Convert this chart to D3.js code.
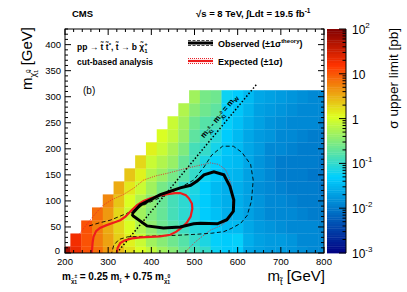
<!DOCTYPE html>
<html><head><meta charset="utf-8">
<script src="https://cdn.jsdelivr.net/npm/d3@7"></script>
<style>
body{margin:0;background:#fff}
svg{display:block}
text{font-family:"Liberation Sans",Arial,Helvetica,sans-serif;fill:#000}
</style>
</head><body>
<svg id="c" width="407" height="292"></svg>
<script>
// ---------------- data ----------------
const stopMass = [200,225,250,275,300,325,350,375,400,425,450,475,500,525,550,575,600,625,650,675,700,725,750,775,800];
const lspStep = 25; // LSP mass of the first cell is 0, then +25 GeV per cell
// observed sigma upper limit [pb], one array per stop mass column, from m_LSP = 0 upward
const upperLimit = [
 [63],
 [20,18],
 [11,10,11],
 [7.1,6.3,6.0,7.1],
 [4.2,3.8,3.5,4.0,5.2],
 [2.6,2.2,1.9,1.9,2.4,3.3],
 [1.7,1.3,1.05,0.89,1.05,1.5,2.4],
 [1.05,0.83,0.63,0.48,0.63,0.89,1.3,1.9],
 [0.71,0.50,0.37,0.30,0.32,0.45,0.63,0.89,1.3],
 [0.45,0.35,0.25,0.20,0.22,0.28,0.42,0.60,0.83,1.05],
 [0.32,0.24,0.17,0.13,0.14,0.19,0.28,0.40,0.52,0.71,0.83],
 [0.21,0.16,0.12,0.095,0.095,0.11,0.16,0.22,0.30,0.40,0.50,0.60],
 [0.14,0.11,0.089,0.071,0.066,0.076,0.105,0.13,0.14,0.18,0.25,0.35,0.45],
 [0.10,0.079,0.066,0.050,0.048,0.050,0.060,0.079,0.10,0.126,0.16,0.24,0.28],
 [0.063,0.056,0.050,0.038,0.035,0.035,0.040,0.052,0.066,0.089,0.126,0.19,0.24],
 [0.050,0.045,0.035,0.028,0.026,0.028,0.034,0.038,0.042,0.048,0.052,0.056,0.063],
 [0.050,0.052,0.035,0.028,0.026,0.028,0.030,0.032,0.032,0.035,0.038,0.040,0.045],
 [0.025,0.028,0.025,0.022,0.021,0.021,0.022,0.024,0.025,0.025,0.028,0.030,0.032],
 [0.020,0.022,0.019,0.017,0.016,0.015,0.016,0.017,0.018,0.019,0.021,0.022,0.025],
 [0.018,0.019,0.016,0.014,0.013,0.0126,0.0126,0.013,0.014,0.016,0.017,0.018,0.020],
 [0.018,0.018,0.015,0.013,0.0126,0.012,0.011,0.011,0.0126,0.014,0.015,0.017,0.018],
 [0.016,0.016,0.014,0.0126,0.012,0.011,0.0105,0.011,0.012,0.0126,0.014,0.015,0.016],
 [0.015,0.014,0.013,0.012,0.011,0.0105,0.010,0.0105,0.011,0.012,0.013,0.014,0.015],
 [0.014,0.013,0.0126,0.011,0.0105,0.010,0.0095,0.010,0.0105,0.011,0.0126,0.013,0.014],
 [0.013,0.0126,0.012,0.0105,0.010,0.0095,0.009,0.0095,0.010,0.0105,0.012,0.0126,0.013]
];
// contours [m_stop, m_LSP]
const observedLimit = [[355,75],[374,92],[400,103],[421,112],[467,125],[491,130],[506,138],[522,150],[545,156],[568,150],[582,128],[591,102],[590,80],[575,64],[553,56],[514,57],[498,56],[467,50],[428,48],[390,52],[358,71],[355,75]];
const observedTheoryPlus = [[256,52],[280,58],[305,63],[343,76],[390,95],[444,115],[498,140],[522,165],[540,188],[565,205],[590,205],[610,193],[630,170],[636,140],[632,100],[622,72],[607,57],[585,47],[568,41],[540,38],[505,36],[460,34],[420,33],[380,32],[345,31],[325,26],[313,15],[308,0]];
const expectedLimit = [[262,0],[264,20],[266,31],[272,42],[281,48],[295,53],[312,58],[328,63],[340,70],[352,80],[367,92],[382,100],[398,105],[418,110],[437,113],[455,115],[467,115],[480,111],[487,105],[494,95],[495,85],[491,70],[482,58],[471,49],[458,41],[444,35],[420,32],[398,31],[375,30],[355,28],[338,24],[328,19],[322,10],[320,0]];
const expectedSigmaPlus = [[233,36],[240,44],[258,63],[275,80],[289,92],[310,103],[335,112],[360,125],[382,140],[410,148],[437,153],[460,158],[483,163],[510,168],[537,173],[556,170],[572,160],[580,145],[586,125],[588,100],[588,80],[580,65],[560,52],[537,44],[515,30],[500,20],[491,12],[483,6],[478,0]];
const mWLine = [[320,0],[645,325]];
const xTicks = [200,300,400,500,600,700,800];
const yTicks = [0,50,100,150,200,250,300,350,400];
const zTicks = [1e-3,1e-2,1e-1,1,10,100];
const zLabels = [["10","-3"],["10","-2"],["10","-1"],["1",""],["10",""],["10","2"]];

// ---------------- drawing ----------------
const svg = d3.select("#c");
const x = d3.scaleLinear().domain([200,800]).range([65,324]);
const y = d3.scaleLinear().domain([0,430]).range([253,29]);
const z = d3.scaleLog().domain([1e-3,1e2]).range([253,29]);
const pal = d3.scaleLinear().domain([0,0.34,0.61,0.84,1])
  .range(["#000082","#00cfff","#deff1f","#ff3300","#820000"]).clamp(true);
const nCont = 100;
const colorOf = v => { let f=(Math.log10(v)+3)/5; f=Math.floor(f*nCont)/nCont+0.5/nCont; return pal(f); };

svg.append("defs").append("clipPath").attr("id","plot")
  .append("rect").attr("x",65).attr("y",29).attr("width",259).attr("height",224);

const cells = [];
stopMass.forEach((m,i)=>upperLimit[i].forEach((v,j)=>cells.push({m, l:j*lspStep, v})));
const gCells = svg.append("g").attr("clip-path","url(#plot)");
gCells.selectAll("rect").data(cells).enter().append("rect")
  .attr("x",d=>x(d.m-12.5)).attr("y",d=>y(d.l+12.5))
  .attr("width",d=>x(d.m+12.5)-x(d.m-12.5)+0.3)
  .attr("height",d=>y(d.l-12.5)-y(d.l+12.5)+0.3)
  .attr("fill",d=>colorOf(d.v));

// contours
const line = d3.line().x(d=>x(d[0])).y(d=>y(d[1]));
const gC = svg.append("g").attr("clip-path","url(#plot)").attr("fill","none");
gC.append("path").attr("d",line(mWLine)).attr("stroke","#000").attr("stroke-width",1.5).attr("stroke-dasharray","1.5,2");
gC.append("path").attr("d",line(expectedSigmaPlus)).attr("stroke","#e8202a").attr("stroke-width",0.9).attr("stroke-dasharray","1,1.3");
gC.append("path").attr("d",line(observedTheoryPlus)).attr("stroke","#000").attr("stroke-width",0.9).attr("stroke-dasharray","4,2.5");
gC.append("path").attr("d",line(expectedLimit)).attr("stroke","#ee1c1c").attr("stroke-width",2.2);
gC.append("path").attr("d",line(observedLimit)).attr("stroke","#000").attr("stroke-width",3);

// mW label
const ang = Math.atan2(y(0)-y(100), x(100)-x(0))*180/Math.PI;
const lab = svg.append("text").attr("font-size",8).attr("font-weight","bold")
  .attr("transform",`translate(${x(522)},${y(220)}) rotate(${-ang})`);
lab.append("tspan").text("m");
lab.append("tspan").attr("font-size",5.5).attr("dy",2).text("χ̃");
lab.append("tspan").attr("font-size",4.5).attr("dy",-4).text("±");
lab.append("tspan").attr("font-size",4.5).attr("dx",-3).attr("dy",5).text("1");
lab.append("tspan").attr("dy",-3).text(" - m");
lab.append("tspan").attr("font-size",5.5).attr("dy",2).text("χ̃");
lab.append("tspan").attr("font-size",4.5).attr("dy",-4).text("0");
lab.append("tspan").attr("font-size",4.5).attr("dx",-3).attr("dy",5).text("1");
lab.append("tspan").attr("dy",-3).text(" = m");
lab.append("tspan").attr("font-size",5.5).attr("dy",2).text("W");

// frame and ticks
const gA = svg.append("g").attr("stroke","#000").attr("stroke-width",1);
gA.append("rect").attr("x",65).attr("y",29).attr("width",259).attr("height",224).attr("fill","none");
const xMinor = d3.range(200,801,20), yMinor = d3.range(0,431,10);
xMinor.forEach(t=>{const L = xTicks.includes(t)?6:3;
  gA.append("line").attr("x1",x(t)).attr("x2",x(t)).attr("y1",253).attr("y2",253-L);
  gA.append("line").attr("x1",x(t)).attr("x2",x(t)).attr("y1",29).attr("y2",29+L);});
yMinor.forEach(t=>{const L = yTicks.includes(t)?6:3;
  gA.append("line").attr("y1",y(t)).attr("y2",y(t)).attr("x1",65).attr("x2",65+L);
  gA.append("line").attr("y1",y(t)).attr("y2",y(t)).attr("x1",324).attr("x2",324-L);});
svg.selectAll(".xl").data(xTicks).enter().append("text").attr("font-size",9.5)
  .attr("x",d=>x(d)).attr("y",264.5).attr("text-anchor","middle").text(d=>d);
svg.selectAll(".yl").data(yTicks).enter().append("text").attr("font-size",9.5)
  .attr("x",d=>d===0?60:61).attr("y",d=>y(d)+3.2-(d===0?2:0)).attr("text-anchor","end").text(d=>d);

// color bar
const gZ = svg.append("g");
d3.range(nCont).forEach(i=>{
  const f0=i/nCont, f1=(i+1)/nCont;
  const yy0 = 253-f1*224, yy1=253-f0*224;
  gZ.append("rect").attr("x",327).attr("y",yy0).attr("width",19).attr("height",yy1-yy0+0.4).attr("fill",pal((i+0.5)/nCont));
});
zTicks.forEach((t,i)=>{ if(i<5) d3.range(2,10).forEach(k=>{
  gZ.append("line").attr("x1",346).attr("x2",342.5).attr("y1",z(t*k)).attr("y2",z(t*k)).attr("stroke","#000");});
  gZ.append("line").attr("x1",346).attr("x2",339).attr("y1",z(t)).attr("y2",z(t)).attr("stroke","#000");
  const tx = svg.append("text").attr("font-size",12).attr("x",352).attr("y",z(t)+5);
  tx.append("tspan").text(zLabels[i][0]);
  if(zLabels[i][1]) tx.append("tspan").attr("font-size",8).attr("dy",-6).text(zLabels[i][1]);
});
gZ.append("line").attr("x1",346).attr("x2",346).attr("y1",29).attr("y2",253).attr("stroke","#000");

// titles
svg.append("text").attr("font-size",13.5).attr("text-anchor","end")
  .attr("transform","translate(398,28) rotate(-90)").text("σ upper limit [pb]");
const yt = svg.append("text").attr("font-size",15).attr("text-anchor","end")
  .attr("transform","translate(32,27) rotate(-90)");
yt.append("tspan").text("m");
yt.append("tspan").attr("font-size",9).attr("dy",4).text("χ̃");
yt.append("tspan").attr("font-size",6).attr("dy",-6).text("0");
yt.append("tspan").attr("font-size",6).attr("dx",-3.5).attr("dy",8).text("1");
yt.append("tspan").attr("dy",-6).text(" [GeV]");
const xt = svg.append("text").attr("font-size",15).attr("text-anchor","end").attr("x",325).attr("y",281);
xt.append("tspan").text("m");
xt.append("tspan").attr("font-size",9).attr("dy",4).text("t̃");
xt.append("tspan").attr("dy",-4).text("  [GeV]");

svg.append("text").attr("x",72).attr("y",17).attr("font-size",9.5).attr("font-weight","bold").text("CMS");
const en = svg.append("text").attr("x",196).attr("y",17).attr("font-size",9.5).attr("font-weight","bold");
en.append("tspan").text("√s = 8 TeV, ∫Ldt = 19.5 fb");
en.append("tspan").attr("font-size",6.5).attr("dy",-4).text("-1");

const p1 = svg.append("text").attr("x",77).attr("y",50).attr("font-size",8.5).attr("font-weight","bold");
p1.append("tspan").text("pp → t̃ t̃");
p1.append("tspan").attr("font-size",6).attr("dy",-3).text("*");
p1.append("tspan").attr("dy",3).text(", t̃ → b χ̃");
p1.append("tspan").attr("font-size",6).attr("dy",-4).text("+");
p1.append("tspan").attr("font-size",6).attr("dx",-3.5).attr("dy",7).text("1");
svg.append("text").attr("x",77).attr("y",65).attr("font-size",8.5).attr("font-weight","bold").text("cut-based analysis");
svg.append("text").attr("x",83).attr("y",94).attr("font-size",10).text("(b)");

// legend
const gL = svg.append("g").attr("fill","none");
gL.append("line").attr("x1",188).attr("x2",213).attr("y1",40.5).attr("y2",40.5).attr("stroke","#444").attr("stroke-dasharray","3,1.5");
gL.append("line").attr("x1",188).attr("x2",213).attr("y1",45.5).attr("y2",45.5).attr("stroke","#444").attr("stroke-dasharray","3,1.5");
gL.append("line").attr("x1",188).attr("x2",213).attr("y1",43).attr("y2",43).attr("stroke","#000").attr("stroke-width",3);
gL.append("line").attr("x1",188).attr("x2",213).attr("y1",58.5).attr("y2",58.5).attr("stroke","#e8202a").attr("stroke-dasharray","1,1");
gL.append("line").attr("x1",188).attr("x2",213).attr("y1",63.5).attr("y2",63.5).attr("stroke","#e8202a").attr("stroke-dasharray","1,1");
gL.append("line").attr("x1",188).attr("x2",213).attr("y1",61).attr("y2",61).attr("stroke","#ee1c1c").attr("stroke-width",2.2);
const l1 = svg.append("text").attr("x",218).attr("y",47).attr("font-size",9).attr("font-weight","bold");
l1.append("tspan").text("Observed (±1σ");
l1.append("tspan").attr("font-size",6).attr("dy",-4).text("theory");
l1.append("tspan").attr("dy",4).text(")");
svg.append("text").attr("x",218).attr("y",65).attr("font-size",9).attr("font-weight","bold").text("Expected (±1σ)");

const bf = svg.append("text").attr("x",62).attr("y",280).attr("font-size",10).attr("font-weight","bold");
bf.append("tspan").text("m");
bf.append("tspan").attr("font-size",6).attr("dy",3).text("χ̃");
bf.append("tspan").attr("font-size",5).attr("dy",-5).text("±");
bf.append("tspan").attr("font-size",5).attr("dx",-3).attr("dy",6).text("1");
bf.append("tspan").attr("dy",-4).text(" = 0.25 m");
bf.append("tspan").attr("font-size",6).attr("dy",3).text("t̃");
bf.append("tspan").attr("dy",-3).text(" + 0.75 m");
bf.append("tspan").attr("font-size",6).attr("dy",3).text("χ̃");
bf.append("tspan").attr("font-size",5).attr("dy",-5).text("0");
bf.append("tspan").attr("font-size",5).attr("dx",-3).attr("dy",6).text("1");
</script>
</body></html>
